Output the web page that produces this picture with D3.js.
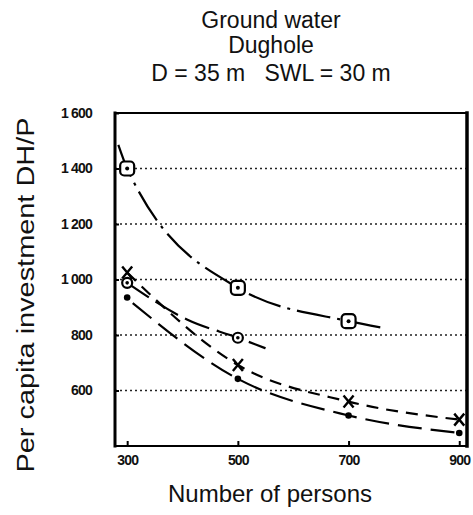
<!DOCTYPE html>
<html>
<head>
<meta charset="utf-8">
<script src="https://cdn.jsdelivr.net/npm/d3@7"></script>
<style>
  body { margin: 0; background: #fff; }
  svg { display: block; font-family: "Liberation Sans", Arial, sans-serif; }
</style>
</head>
<body>
<svg id="chart" width="473" height="515"></svg>
<script>
// values
const xTicks = [300, 500, 700, 900];
const yTicks = [600, 800, 1000, 1200, 1400, 1600];
const yTickLabels = ["600", "800", "1 000", "1 200", "1 400", "1 600"];
const gridValues = [600, 800, 1000, 1200, 1400];

// markers at the survey points
const squareX = [300, 500, 700];
const squareY = [1400, 970, 850];
const circleX = [300, 500];
const circleY = [988, 790];
const crossX = [300, 500, 700, 900];
const crossY = [1025, 692, 560, 495];
const dotX = [300, 500, 700, 900];
const dotY = [935, 642, 510, 447];

// traced line paths (they run past the markers at the ends)
const squareLineX = [284, 300, 500, 700, 765];
const squareLineY = [1485, 1400, 970, 850, 825];
const circleLineX = [300, 408, 500, 550];
const circleLineY = [988, 856, 790, 752];
const crossLineX = [300, 500, 700, 900];
const crossLineY = [1025, 692, 560, 495];
const dotLineX = [310, 500, 700, 900];
const dotLineY = [915, 642, 510, 447];

const titleLines = ["Ground water", "Dughole", "D = 35 m   SWL = 30 m"];

const svg = d3.select("#chart");
const margin = {left: 115, right: 6, top: 113, bottom: 69};
const width = 473, height = 515;

const x = d3.scaleLinear().domain([278, 914]).range([margin.left, width - margin.right]);
const y = d3.scaleLinear().domain([400, 1600]).range([height - margin.bottom, margin.top]);

const zip = (xs, ys) => xs.map((v, i) => [v, ys[i]]);

// titulo
svg.append("g").selectAll("text")
    .data(titleLines)
    .join("text")
    .attr("x", 271)
    .attr("y", (d, i) => [28, 53, 81][i])
    .attr("text-anchor", "middle")
    .attr("font-size", 23)
    .attr("fill", "#111")
    .style("white-space", "pre")
    .text(d => d);

// grade pontilhada
svg.append("g").selectAll("line")
    .data(gridValues)
    .join("line")
    .attr("x1", x.range()[0])
    .attr("x2", x.range()[1])
    .attr("y1", d => y(d))
    .attr("y2", d => y(d))
    .attr("stroke", "#222")
    .attr("stroke-width", 1.3)
    .attr("stroke-dasharray", "2,3");

// eixos
const yAxis = svg.append("g")
    .attr("transform", `translate(${margin.left},0)`)
    .call(d3.axisLeft(y).tickValues(yTicks).tickSizeInner(-4).tickSizeOuter(0).tickPadding(23)
        .tickFormat((d, i) => yTickLabels[i]));
yAxis.select(".domain").remove();
yAxis.selectAll("line").attr("stroke-width", 2);
yAxis.selectAll("text").attr("font-size", 14).attr("font-weight", "bold").attr("letter-spacing", -0.8)
    .attr("fill", "#111").style("white-space", "pre");

const xAxis = svg.append("g")
    .attr("transform", `translate(0,${height - margin.bottom})`)
    .call(d3.axisBottom(x).tickValues(xTicks).tickSizeInner(-5).tickSizeOuter(0).tickPadding(9));
xAxis.select(".domain").remove();
xAxis.selectAll("line").attr("stroke-width", 2);
xAxis.selectAll("text").attr("font-size", 14).attr("font-weight", "bold").attr("letter-spacing", -0.8).attr("fill", "#111");

// moldura
const [x0, x1] = x.range(), [y1, y0] = y.range();
const frame = svg.append("g").attr("stroke", "#000").attr("stroke-linecap", "square");
frame.append("line").attr("x1", x0).attr("x2", x0).attr("y1", y0).attr("y2", y1).attr("stroke-width", 3);
frame.append("line").attr("x1", x1).attr("x2", x1).attr("y1", y0).attr("y2", y1).attr("stroke-width", 3.5);
frame.append("line").attr("x1", x0).attr("x2", x1).attr("y1", y0).attr("y2", y0).attr("stroke-width", 2);
frame.append("line").attr("x1", x0).attr("x2", x1).attr("y1", y1).attr("y2", y1).attr("stroke-width", 2);

// curvas
const line = d3.line().x(d => x(d[0])).y(d => y(d[1])).curve(d3.curveMonotoneX);
const curves = [
    {pts: zip(squareLineX, squareLineY), dash: "34,7,3,7"},
    {pts: zip(circleLineX, circleLineY), dash: "26,8"},
    {pts: zip(crossLineX, crossLineY), dash: "12,8"},
    {pts: zip(dotLineX, dotLineY), dash: "24,9"}
];
svg.append("g").selectAll("path")
    .data(curves)
    .join("path")
    .attr("d", d => line(d.pts))
    .attr("fill", "none")
    .attr("stroke", "#000")
    .attr("stroke-width", 2.2)
    .attr("stroke-dasharray", d => d.dash);

// marcadores
const marks = svg.append("g").attr("stroke", "#000");

const sq = marks.selectAll(".sq").data(zip(squareX, squareY)).join("g").attr("class", "sq")
    .attr("transform", d => `translate(${x(d[0])},${y(d[1])})`);
sq.append("rect").attr("x", -7).attr("y", -7).attr("width", 14).attr("height", 14).attr("rx", 4)
    .attr("fill", "#fff").attr("stroke-width", 2.2);
sq.append("circle").attr("r", 2).attr("fill", "#000").attr("stroke", "none");

const ci = marks.selectAll(".ci").data(zip(circleX, circleY)).join("g").attr("class", "ci")
    .attr("transform", d => `translate(${x(d[0])},${y(d[1])})`);
ci.append("circle").attr("r", 5).attr("fill", "#fff").attr("stroke-width", 2.2);
ci.append("circle").attr("r", 1.8).attr("fill", "#000").attr("stroke", "none");

marks.selectAll(".cr").data(zip(crossX, crossY)).join("path").attr("class", "cr")
    .attr("transform", d => `translate(${x(d[0])},${y(d[1])})`)
    .attr("d", "M-5,-6L5,6M5,-6L-5,6")
    .attr("stroke-width", 2.4)
    .attr("fill", "none");

marks.selectAll(".dt").data(zip(dotX, dotY)).join("circle").attr("class", "dt")
    .attr("cx", d => x(d[0])).attr("cy", d => y(d[1]))
    .attr("r", 3.3).attr("fill", "#000").attr("stroke", "none");

// rotulos dos eixos
svg.append("text")
    .attr("text-anchor", "middle")
    .attr("x", 270)
    .attr("y", 502)
    .attr("font-size", 24)
    .attr("fill", "#111")
    .text("Number of persons");

svg.append("text")
    .attr("text-anchor", "middle")
    .attr("transform", "translate(34,295) rotate(-90)")
    .attr("font-size", 23)
    .attr("fill", "#111")
    .attr("textLength", 355)
    .attr("lengthAdjust", "spacingAndGlyphs")
    .text("Per capita investment DH/P");
</script>
</body>
</html>
